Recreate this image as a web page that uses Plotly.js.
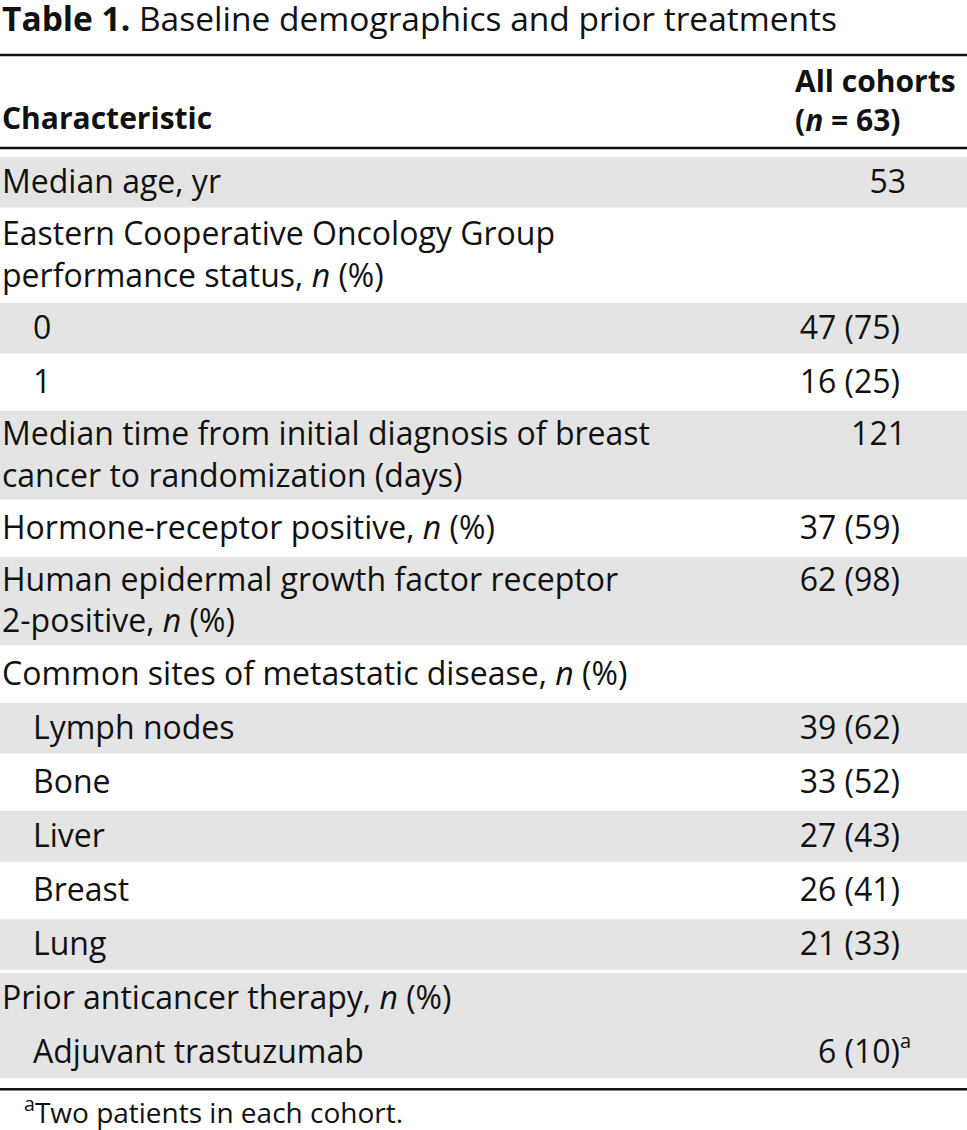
<!DOCTYPE html>
<html><head><meta charset="utf-8">
<script src="https://cdn.plot.ly/plotly-3.0.1.min.js"></script>
<style>html,body{margin:0;padding:0;background:#fff;overflow:hidden}</style>
</head><body><div id="chart" style="width:967px;height:1130px"></div>
<script>
// ---------- data ----------
const titleBold = 'Table 1.';
const titleRest = 'Baseline demographics and prior treatments';
const headerLabel = 'Characteristic';
const headerValue = ['All cohorts', '(<i>n</i> = 63)'];
const labels = [
  'Median age, yr',
  'Eastern Cooperative Oncology Group<br>performance status, <i>n</i> (%)',
  '0',
  '1',
  'Median time from initial diagnosis of breast<br>cancer to randomization (days)',
  'Hormone-receptor positive, <i>n</i> (%)',
  'Human epidermal growth factor receptor<br>2-positive, <i>n</i> (%)',
  'Common sites of metastatic disease, <i>n</i> (%)',
  'Lymph nodes',
  'Bone',
  'Liver',
  'Breast',
  'Lung',
  'Prior anticancer therapy, <i>n</i> (%)',
  'Adjuvant trastuzumab'
];
const values = ['53', '', '47 (75)', '16 (25)', '121', '37 (59)', '62 (98)', '',
  '39 (62)', '33 (52)', '27 (43)', '26 (41)', '21 (33)', '', '6 (10)'];
const valueNotes = ['', '', '', '', '', '', '', '', '', '', '', '', '', '', 'a'];
const indentLevel = [0, 0, 1, 1, 0, 0, 0, 0, 2, 2, 2, 2, 2, 0, 2];
const band = [0, 1, 2, 3, 4, 5, 6, 7, 8, 9, 10, 11, 12, 13, 13];
const shadedBands = [0, 2, 4, 6, 8, 10, 12, 13];
const footnoteMark = 'a';
const footnoteText = 'Two patients in each cohort.';

// ---------- style / layout constants ----------
const W = 967, H = 1130;
const FONT = 'Open Sans';
const FS = 32;
const HFS = 30;
const LS = 1.3 * FS;          // plotly line spacing for multi-line text
const GRAY = '#e4e4e4';
const INK = '#111';
const indentPx = [2, 33, 33];
const valueRightPct = 900;    // right edge of "n (%)" values
const valueRightNum = 906;    // right edge of plain numbers
const headerValueX = 795;
const bodyTop = 155.25;
const singleRowH = 54.08;
const extraLineH = 37.75;
const bandInset = 1.75;
const textNudge = 2.5;
const topRuleY = 55, headRuleY = 148;

// ---------- geometry from data ----------
const rowTop = [], rowBot = [], nLines = [];
let y = bodyTop;
labels.forEach((lab) => {
  const n = lab.split('<br>').length;
  nLines.push(n);
  rowTop.push(y);
  y += singleRowH + extraLineH * (n - 1);
  rowBot.push(y);
});
const bottomRuleY = rowBot[rowBot.length - 1] + 9.5;

const shapes = [];
shadedBands.forEach((b) => {
  const idx = band.map((v, i) => v === b ? i : -1).filter(i => i >= 0);
  shapes.push({type: 'rect', xref: 'x', yref: 'y', layer: 'below',
    x0: 0, x1: W, y0: rowTop[idx[0]] + bandInset, y1: rowBot[idx[idx.length - 1]] - bandInset,
    fillcolor: GRAY, line: {width: 0}});
});
[topRuleY, headRuleY, bottomRuleY].forEach(ry => {
  shapes.push({type: 'line', xref: 'x', yref: 'y', x0: 0, x1: W, y0: ry, y1: ry,
    line: {color: INK, width: 2.6}});
});

const rowMid = rowTop.map((t, i) => (t + rowBot[i]) / 2 + textNudge);
const firstLineY = rowMid.map((m, i) => m - (nLines[i] - 1) * LS / 2);

const lx = labels.map((_, i) => indentPx[indentLevel[i]]);
const vIdx = values.map((v, i) => v ? i : -1).filter(i => i >= 0);
const vx = vIdx.map(i => values[i].indexOf('(') >= 0 ? valueRightPct : valueRightNum);
const vy = vIdx.map(i => firstLineY[i]);
const vt = vIdx.map(i => values[i]);
const nIdx = valueNotes.map((v, i) => v ? i : -1).filter(i => i >= 0);

const font = {family: FONT, size: FS, color: INK};
const hfont = {family: FONT, size: HFS, color: INK};
const base = {type: 'scatter', mode: 'text', hoverinfo: 'skip', showlegend: false, cliponaxis: false};
const traces = [
  Object.assign({}, base, {x: lx, y: rowMid, text: labels, textposition: 'middle right', textfont: font}),
  Object.assign({}, base, {x: vx, y: vy, text: vt, textposition: 'middle left', textfont: font}),
  Object.assign({}, base, {x: nIdx.map(() => valueRightPct), y: nIdx.map(i => firstLineY[i] - 12),
    text: nIdx.map(i => valueNotes[i]), textposition: 'middle right',
    textfont: {family: FONT, size: 20, color: INK}}),
  Object.assign({}, base, {x: [indentPx[0]], y: [121], text: ['<b>' + headerLabel + '</b>'],
    textposition: 'middle right', textfont: hfont}),
  Object.assign({}, base, {x: [headerValueX], y: [103.5],
    text: ['<b>' + headerValue.join('<br>') + '</b>'],
    textposition: 'middle right', textfont: hfont}),
  Object.assign({}, base, {x: [24], y: [1116],
    text: ['<sup>' + footnoteMark + '</sup>' + footnoteText],
    textposition: 'middle right', textfont: {family: FONT, size: 28, color: INK}})
];

const layout = {
  width: W, height: H,
  margin: {l: 0, r: 0, t: 0, b: 0, pad: 0},
  paper_bgcolor: '#fff', plot_bgcolor: '#fff',
  title: {text: '<b>' + titleBold + '</b> ' + titleRest, xref: 'container', yref: 'container',
    x: 2 / W, xanchor: 'left', y: 1 - 19 / H, yanchor: 'middle',
    font: {family: FONT, size: 33.5, color: INK}},
  xaxis: {range: [0, W], visible: false, fixedrange: true},
  yaxis: {range: [H, 0], visible: false, fixedrange: true},
  shapes: shapes,
  showlegend: false
};
Plotly.newPlot('chart', traces, layout, {displayModeBar: false, staticPlot: true});
</script></body></html>
